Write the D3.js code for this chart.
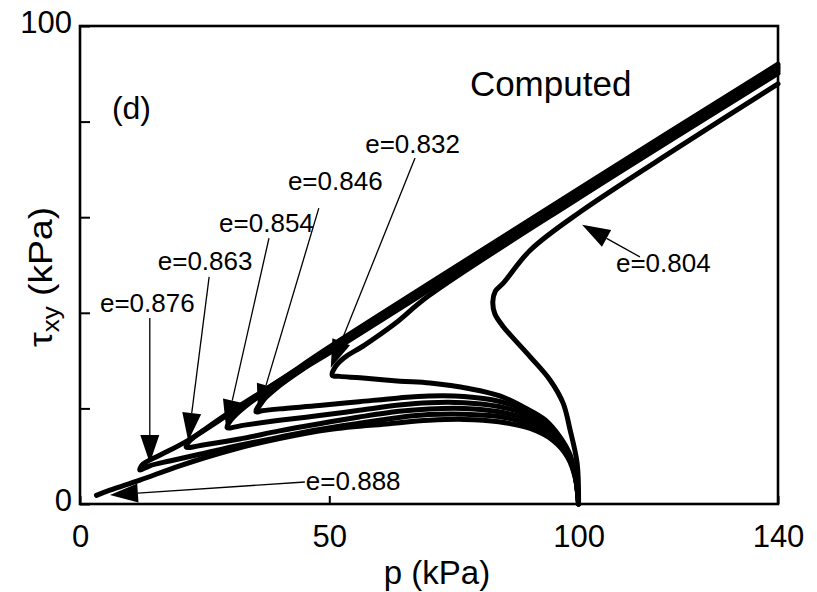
<!DOCTYPE html>
<html>
<head>
<meta charset="utf-8">
<script src="https://d3js.org/d3.v7.min.js"></script>
<style>
body { margin:0; background:#fff; }
text { font-family: "Liberation Sans", Arial, sans-serif; fill:#000; }
</style>
</head>
<body>
<div id="chart-area"></div>
<script>
// stress paths p vs tau_xy
var xTicks = [0, 50, 100, 140];
var yTicks = [0, 20, 40, 60, 80, 100];
var yLabels = [0, 100];

var voidRatios = ["0.804", "0.832", "0.846", "0.854", "0.863", "0.876", "0.888"];

var path0804 = [[100,0],[99.7,8.6],[98.3,15.5],[96.9,21.1],[94.3,25.9],[90.3,30.8],[84.9,37.1],[83.2,39.8],[82.8,42.3],[83.3,44.5],[84.9,46.2],[90.3,53.1],[100.3,61.1],[120,74.6],[140,87.9]];
var path0832 = [[100,0],[99.5,5],[98.3,10.3],[96.3,14],[93.3,17.6],[89.3,20.1],[84.2,22.6],[78.2,24.1],[70.2,25.3],[64.2,25.7],[56.2,26.4],[52.1,26.7],[50.6,26.9],[51.2,28.7],[53,30.6],[57,33.2],[63,37.6],[70,43.6],[100,64.0],[140,90.1]];
var path0846 = [[100,0],[99.2,6.5],[97.6,11.5],[94.6,15.8],[90,19.3],[84,21.5],[77,22.5],[70,22.6],[64,22.2],[56,21.4],[48,20.6],[40,19.9],[36.5,19.5],[35.3,19.3],[36.1,21.0],[39,23.9],[45,28.4],[50,31.6],[70,44.8],[100,64.5],[140,90.6]];
var path0854 = [[100,0],[99.3,6.2],[97.6,11.2],[94.7,15.3],[90.1,18.5],[84,20.4],[77,21.2],[70,21.2],[64,20.7],[56,19.6],[48,18.5],[40,17.5],[33,16.5],[29.5,16.0],[30.3,17.6],[33,20.3],[40,25.4],[50,32.1],[70,45.3],[100,65.0],[140,91.1]];
var path0863 = [[100,0],[99.3,6],[97.7,10.8],[94.8,14.6],[90.2,17.6],[84,19.3],[77,20],[70,19.9],[64,19.4],[56,18.2],[48,16.8],[40,15.3],[32,13.6],[25,12.4],[21.3,11.9],[22,13.2],[25,15.6],[30,19.2],[40,25.8],[50,32.5],[70,45.7],[100,65.4],[140,91.5]];
var path0876 = [[100,0],[99.4,5.6],[97.7,10.3],[94.8,14],[90.2,16.7],[84,18.3],[77,18.8],[70,18.7],[64,18.1],[56,16.9],[48,15.6],[40,14.0],[32,12.3],[24,10.4],[18,9.0],[14,8.0],[12,7.1],[12.6,8.3],[16,10.2],[21,12.9],[30,18.9],[40,25.8],[50,32.8],[70,46.1],[100,65.9],[140,92.0]];
var path0888 = [[100,0],[99.4,5.2],[97.8,9.8],[94.9,13.3],[90.3,15.8],[84,17.2],[77,17.7],[70,17.5],[62,16.8],[50,15.6],[40,13.7],[30,11.2],[20,8.0],[12,5.0],[6,2.9],[3.3,1.8]];

var paths = [path0804, path0832, path0846, path0854, path0863, path0876, path0888];

// annotation: text start, arrow tail, arrow tip (data units)
var labelPos  = [[107.5,48.5],[57.2,73.4],[41.7,65.7],[27.9,56.9],[15.6,49.0],[4.0,40.2],[45.3,2.9]];
var arrowFrom = [[112.3,51.7],[67.2,72.4],[47.9,61.9],[37.9,55.6],[25.9,47.5],[14.0,38.9],[45.1,4.6]];
var arrowTo   = [[100.7,58.4],[50.3,28.5],[35.7,19.2],[29.3,15.9],[21.7,13.2],[14.0,8.6],[6.0,1.9]];

var margin = {left:80, right:39, top:26, bottom:88};
var width = 817 - margin.left - margin.right;
var height = 592 - margin.top - margin.bottom;

var svg = d3.select("#chart-area")
	.append("svg")
		.attr("width", width + margin.left + margin.right)
		.attr("height", height + margin.top + margin.bottom);

var g = svg.append("g")
		.attr("transform", "translate(" + margin.left + "," + margin.top + ")");

var x = d3.scaleLinear().domain([0, 140]).range([0, width]);
var y = d3.scaleLinear().domain([0, 100]).range([height, 0]);

var line = d3.line()
	.x(function(d){ return x(d[0]); })
	.y(function(d){ return y(d[1]); })
	.curve(d3.curveCatmullRom.alpha(0.5));

g.append("g").attr("class", "curves")
	.selectAll("path")
	.data(paths)
	.enter()
	.append("path")
		.attr("d", line)
		.attr("fill", "none")
		.attr("stroke", "#000")
		.attr("stroke-width", 5)
		.attr("stroke-linejoin", "round")
		.attr("stroke-linecap", "round");

// arrows
var headL = 28, headW = 9.5;
voidRatios.forEach(function(v, i){
	var x0 = x(arrowFrom[i][0]), y0 = y(arrowFrom[i][1]);
	var x1 = x(arrowTo[i][0]), y1 = y(arrowTo[i][1]);
	var len = Math.sqrt((x1-x0)*(x1-x0) + (y1-y0)*(y1-y0));
	var ux = (x1-x0)/len, uy = (y1-y0)/len;
	var bx = x1 - ux*headL, by = y1 - uy*headL;

	g.append("line")
		.attr("x1", x0).attr("y1", y0)
		.attr("x2", bx).attr("y2", by)
		.attr("stroke", "#000")
		.attr("stroke-width", 1.3);

	g.append("path")
		.attr("d", "M" + x1 + "," + y1 +
			"L" + (bx - uy*headW) + "," + (by + ux*headW) +
			"L" + (bx + uy*headW) + "," + (by - ux*headW) + "Z")
		.attr("fill", "#000");

	g.append("text")
		.attr("x", x(labelPos[i][0]))
		.attr("y", y(labelPos[i][1]))
		.attr("font-size", "26px")
		.text("e=" + v);
});

// axes, ticks inward
var xAxisCall = d3.axisBottom(x)
	.tickValues(xTicks)
	.tickSize(-8)
	.tickPadding(21)
	.tickFormat(d3.format("d"));
var xg = g.append("g")
	.attr("class", "x axis")
	.attr("transform", "translate(0," + height + ")")
	.call(xAxisCall);

var yAxisCall = d3.axisLeft(y)
	.tickValues(yTicks)
	.tickSize(-10)
	.tickPadding(8)
	.tickFormat(function(d){ return yLabels.indexOf(d) >= 0 ? d : ""; });
var yg = g.append("g")
	.attr("class", "y axis")
	.call(yAxisCall);

[xg, yg].forEach(function(a){
	a.select(".domain").remove();
	a.selectAll("line").attr("stroke", "#000").attr("stroke-width", 2);
	a.selectAll("text")
		.attr("font-size", "31px")
		.attr("font-family", "'Liberation Sans', Arial, sans-serif")
		.attr("fill", "#000");
});
yg.selectAll("text").attr("dy", "0.2em");

// frame
g.append("rect")
	.attr("x", 0).attr("y", 0)
	.attr("width", width).attr("height", height)
	.attr("fill", "none")
	.attr("stroke", "#000")
	.attr("stroke-width", 2.6);

g.append("text")
	.attr("x", x(6.4))
	.attr("y", y(80.5))
	.attr("font-size", "32px")
	.text("(d)");

g.append("text")
	.attr("x", x(78.2))
	.attr("y", y(85.3))
	.attr("font-size", "35px")
	.text("Computed");

g.append("text")
	.attr("x", width / 2 + 8)
	.attr("y", height + 80)
	.attr("font-size", "33px")
	.attr("text-anchor", "middle")
	.text("p (kPa)");

var yl = g.append("text")
	.attr("transform", "translate(" + (-28) + "," + (y(47.5)) + ") rotate(-90)")
	.attr("text-anchor", "middle")
	.attr("font-size", "33px")
	.attr("textLength", 140)
	.attr("lengthAdjust", "spacingAndGlyphs");
yl.append("tspan").text("\u03c4");
yl.append("tspan").attr("font-size", "23px").attr("dy", 7).text("xy");
yl.append("tspan").attr("dy", -7).text(" (kPa)");
</script>
</body>
</html>
